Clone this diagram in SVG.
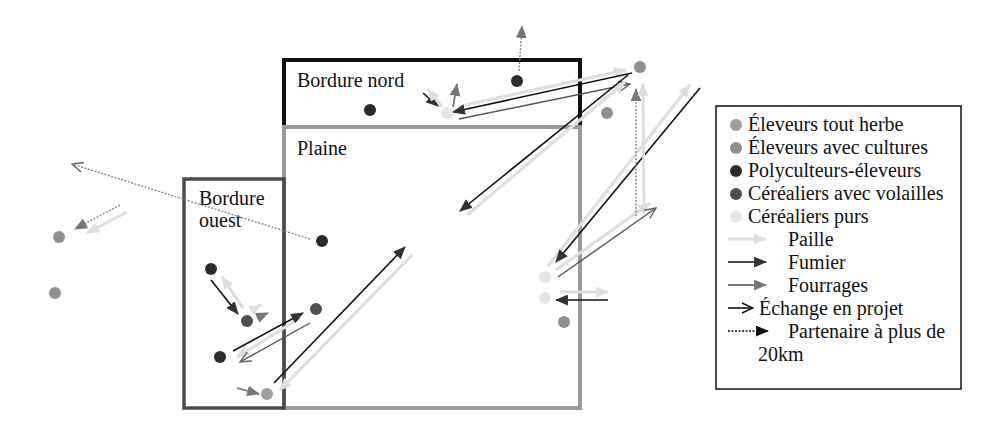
<svg xmlns="http://www.w3.org/2000/svg" width="1000" height="434" viewBox="0 0 1000 434">
<style>
text{font-family:"Liberation Serif","Times New Roman",serif;font-size:20px;fill:#111}
.paille{stroke:#dedede;stroke-width:3;fill:none}
.fumier{stroke:#111;stroke-width:1.6;fill:none}
.four{stroke:#777;stroke-width:1.8;fill:none}
.ech{stroke:#555;stroke-width:1.4;fill:none}
.dot{stroke:#888;stroke-width:1.4;stroke-dasharray:2 1.5;fill:none}
.dotk{stroke:#111;stroke-width:1.6;stroke-dasharray:2 1.5;fill:none}
</style>
<defs>
<marker id="mP" viewBox="0 0 12 10" refX="11" refY="5" markerWidth="13" markerHeight="11" markerUnits="userSpaceOnUse" orient="auto"><path d="M0,0L12,5L0,10z" fill="#dedede"/></marker>
<marker id="mF" viewBox="0 0 12 10" refX="11" refY="5" markerWidth="13" markerHeight="11" markerUnits="userSpaceOnUse" orient="auto"><path d="M0,0L12,5L0,10z" fill="#333"/></marker>
<marker id="mG" viewBox="0 0 12 10" refX="11" refY="5" markerWidth="13" markerHeight="11" markerUnits="userSpaceOnUse" orient="auto"><path d="M0,0L12,5L0,10z" fill="#777"/></marker>
<marker id="mK" viewBox="0 0 12 10" refX="11" refY="5" markerWidth="13" markerHeight="11" markerUnits="userSpaceOnUse" orient="auto"><path d="M0,0L12,5L0,10z" fill="#111"/></marker>
<marker id="mO" viewBox="-1 -1 14 12" refX="12" refY="5" markerWidth="14" markerHeight="12" markerUnits="userSpaceOnUse" orient="auto"><path d="M1,0L12,5L1,10" fill="none" stroke="#111" stroke-width="1.5"/></marker>
<marker id="mOg" viewBox="-1 -1 14 12" refX="12" refY="5" markerWidth="14" markerHeight="12" markerUnits="userSpaceOnUse" orient="auto"><path d="M1,0L12,5L1,10" fill="none" stroke="#666" stroke-width="1.4"/></marker>
</defs>

<g id="zones">
<rect id="bordure-nord" x="284" y="60" width="296" height="67" fill="none" stroke="#111" stroke-width="4"/>
<rect id="plaine" x="284" y="127" width="296" height="281" fill="none" stroke="#9a9a9a" stroke-width="4"/>
<rect id="bordure-ouest" x="184" y="179" width="100" height="229" fill="none" stroke="#4a4a4a" stroke-width="3.5"/>
<text x="297" y="87">Bordure nord</text>
<text x="297" y="155">Plaine</text>
<text x="199" y="205">Bordure</text>
<text x="199" y="227">ouest</text>
</g>

<g id="connectors">
<!-- top -->
<path class="dot" d="M519,71L522,26" marker-end="url(#mG)"/>
<path class="fumier" d="M423,93L438,106" marker-end="url(#mF)"/>
<path class="paille" d="M442,107L428,89" marker-end="url(#mP)"/>
<path class="four" d="M453,107L457,84" marker-end="url(#mG)"/>
<path class="paille" d="M465,105L626,70" marker-end="url(#mP)"/>
<path class="fumier" d="M632,73L453,112" marker-end="url(#mF)"/>
<path class="ech" d="M459,119L630,84" marker-end="url(#mOg)"/>
<!-- plaine diagonal -->
<path class="paille" d="M467,215L625,82" marker-end="url(#mP)"/>
<path class="fumier" d="M628,75L460,211" marker-end="url(#mF)"/>
<!-- right -->
<path class="paille" d="M548,266L690,85" marker-end="url(#mP)"/>
<path class="fumier" d="M700,88L556,262" marker-end="url(#mF)"/>
<path class="paille" d="M556,270L650,203" marker-end="url(#mP)"/>
<path class="ech" d="M558,277L656,208" marker-end="url(#mOg)"/>
<path class="dot" d="M636,216L636,89" marker-end="url(#mG)"/>
<path class="paille" d="M644,208L643,84" marker-end="url(#mP)"/>
<!-- lower right -->
<path class="fumier" d="M608,300L556,300" marker-end="url(#mF)"/>
<path class="paille" d="M560,292L608,292" marker-end="url(#mP)"/>
<!-- bottom left -->
<path class="paille" d="M412,255L280,390" marker-end="url(#mP)"/>
<path class="fumier" d="M274,383L405,247" marker-end="url(#mF)"/>
<path class="four" d="M237,388L259,394" marker-end="url(#mG)"/>
<path class="paille" d="M300,318L237,357" marker-end="url(#mP)"/>
<path class="fumier" d="M233,351L303,313" marker-end="url(#mF)"/>
<path class="ech" d="M310,323L240,362" marker-end="url(#mOg)"/>
<path class="fumier" d="M211,280L238,314" marker-end="url(#mF)"/>
<path class="paille" d="M243,308L222,277" marker-end="url(#mP)"/>
<path class="four" d="M257,318L268,313" marker-end="url(#mG)"/>
<path class="paille" d="M251,311L261,305" marker-end="url(#mP)"/>
<!-- left -->
<path class="dot" d="M310,239L72,164" marker-end="url(#mOg)"/>
<path class="paille" d="M127,212L87,233" marker-end="url(#mP)"/>
<path class="dot" d="M120,205L75,229" marker-end="url(#mG)"/>
</g>

<g id="nodes">
<circle id="n1" cx="517" cy="81" r="6" fill="#2b2b2b"/>
<circle id="n2" cx="370" cy="110" r="6" fill="#2b2b2b"/>
<circle id="n3" cx="447" cy="113" r="6" fill="#e6e6e6"/>
<circle id="n4" cx="640" cy="67" r="6" fill="#8f8f8f"/>
<circle id="n5" cx="607" cy="113" r="6" fill="#8f8f8f"/>
<circle id="n6" cx="322" cy="241" r="6" fill="#2b2b2b"/>
<circle id="n7" cx="59" cy="237" r="6" fill="#8f8f8f"/>
<circle id="n8" cx="55" cy="293" r="6" fill="#8f8f8f"/>
<circle id="n9" cx="211" cy="269" r="6" fill="#2b2b2b"/>
<circle id="n10" cx="247" cy="321" r="6" fill="#4f4f4f"/>
<circle id="n11" cx="316" cy="309" r="6" fill="#4f4f4f"/>
<circle id="n12" cx="220" cy="357" r="6" fill="#2b2b2b"/>
<circle id="n13" cx="267" cy="394" r="6" fill="#9e9e9e"/>
<circle id="n14" cx="545" cy="277" r="6" fill="#e6e6e6"/>
<circle id="n15" cx="545" cy="298" r="6" fill="#e6e6e6"/>
<circle id="n16" cx="564" cy="322" r="6" fill="#8f8f8f"/>
</g>

<g id="legend">
<rect x="716" y="106" width="245" height="283" fill="#fff" stroke="#111" stroke-width="1.5"/>
<circle cx="736" cy="125" r="6" fill="#9e9e9e"/>
<text x="748" y="131">Éleveurs tout herbe</text>
<circle cx="736" cy="148" r="6" fill="#8f8f8f"/>
<text x="748" y="154">Éleveurs avec cultures</text>
<circle cx="736" cy="171" r="6" fill="#2b2b2b"/>
<text x="748" y="177">Polyculteurs-éleveurs</text>
<circle cx="736" cy="194" r="6" fill="#4f4f4f"/>
<text x="748" y="200">Céréaliers avec volailles</text>
<circle cx="736" cy="217" r="6" fill="#e8e8e8"/>
<text x="748" y="223">Céréaliers purs</text>
<path class="paille" d="M728,239L766,239" marker-end="url(#mP)"/>
<text x="788" y="246">Paille</text>
<path class="fumier" d="M728,262L766,262" marker-end="url(#mF)"/>
<text x="788" y="269">Fumier</text>
<path class="four" d="M728,285L766,285" marker-end="url(#mG)"/>
<text x="788" y="292">Fourrages</text>
<path class="fumier" d="M728,308L753,308" marker-end="url(#mO)"/>
<text x="759" y="315">Échange en projet</text>
<path class="dotk" d="M728,331L768,331" marker-end="url(#mK)"/>
<text x="788" y="338">Partenaire à plus de</text>
<text x="758" y="361">20km</text>
</g>
</svg>
